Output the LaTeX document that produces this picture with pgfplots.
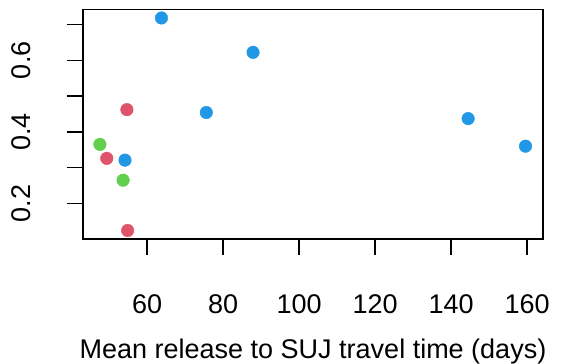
\documentclass[border=0pt]{standalone}
\usepackage{fontspec}
\setmainfont{Liberation Sans}
\usepackage{pgfplots}
\pgfplotsset{compat=1.18}
\definecolor{rblue}{HTML}{2297E6}
\definecolor{rred}{HTML}{DF536B}
\definecolor{rgreen}{HTML}{61D04F}
\begin{document}
\begin{tikzpicture}
\begin{axis}[
  name=ax,
  at={(0,0)}, anchor=south west,
  scale only axis,
  width=460pt, height=229.5pt,
  xmin=43.15, xmax=164.2,
  ymin=0.1008, ymax=0.7417,
  axis line style={line width=1.4pt},
  xtick={60,80,100,120,140,160},
  ytick={0.2,0.3,0.4,0.5,0.6,0.7},
  yticklabels={0.2,,0.4,,0.6,},
  xtick pos=lower, ytick pos=left,
  tick align=outside,
  major tick length=16pt,
  tick style={line width=1.4pt, black},
  /pgf/number format/assume math mode=true,
  ticklabel style={font=\fontsize{27}{31}\selectfont},
  xticklabel style={anchor=north, inner sep=0pt, yshift=-39pt},
  yticklabel style={xshift=-36pt, rotate=90, anchor=base, inner sep=0pt},
  xlabel={Mean release to SUJ travel time (days)},
  xlabel style={font=\fontsize{27}{31}\selectfont, at={(axis description cs:0.5,0)}, anchor=base, inner sep=0pt, yshift=-120pt},
  clip=false,
]
\addplot[only marks, mark=*, mark size=6.3pt, color=rblue, mark options={draw=none, fill=rblue}] coordinates {
  (63.8,0.718) (87.9,0.622) (75.6,0.454) (54.2,0.321) (144.5,0.437) (159.6,0.360)
};
\addplot[only marks, mark=*, mark size=6.3pt, color=rred, mark options={draw=none, fill=rred}] coordinates {
  (54.7,0.462) (49.4,0.326) (54.9,0.1245)
};
\addplot[only marks, mark=*, mark size=6.3pt, color=rgreen, mark options={draw=none, fill=rgreen}] coordinates {
  (47.6,0.365) (53.7,0.265)
};
\end{axis}
\pgfresetboundingbox
\useasboundingbox ([xshift=-83pt,yshift=-125pt]ax.south west) rectangle ([xshift=31pt,yshift=9.5pt]ax.north east);
\end{tikzpicture}
\end{document}
